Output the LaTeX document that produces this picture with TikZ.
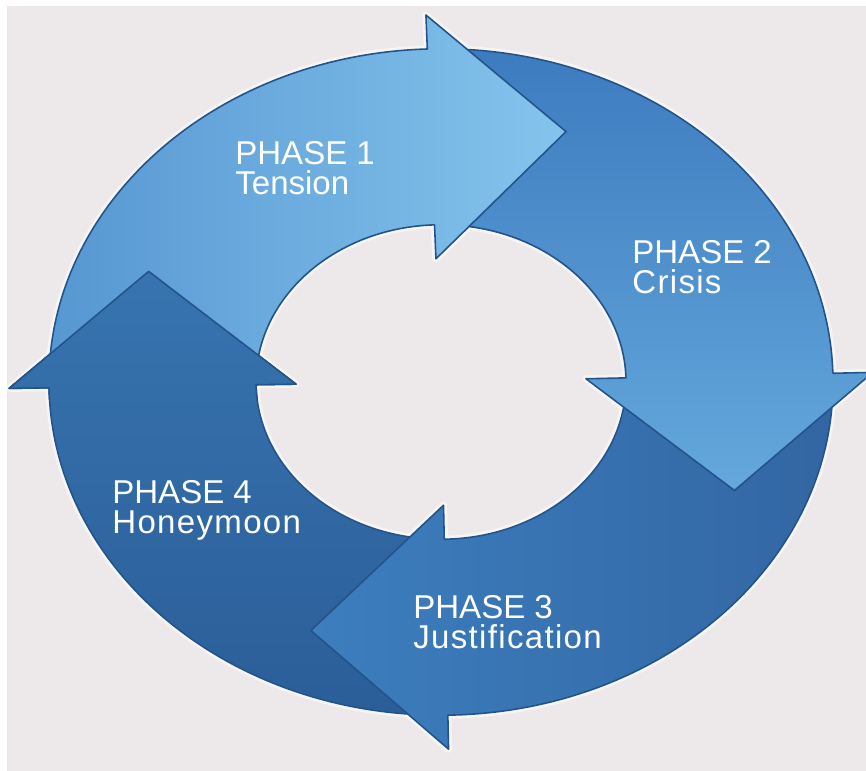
\documentclass[tikz,border=0pt]{standalone}
\usepackage{fontspec}
\setmainfont{Liberation Sans}

\definecolor{paper}{HTML}{EDE9EA}
\definecolor{rim}{HTML}{24538A}
\definecolor{tensionA}{HTML}{5797D2}
\definecolor{tensionB}{HTML}{84C4EC}
\definecolor{crisisA}{HTML}{3D7BBF}
\definecolor{crisisB}{HTML}{64A8DC}
\definecolor{justA}{HTML}{3D7EBE}
\definecolor{justB}{HTML}{3266A3}
\definecolor{honeyA}{HTML}{3774B0}
\definecolor{honeyB}{HTML}{2B5E98}

\tikzset{
  rimline/.style={draw=rim, line width=0.9pt, line join=round},
  halo/.style={draw=white, line width=4pt, opacity=.55, line join=round},
  tensionarrow/.style={rimline, left color=tensionA, right color=tensionB},
  crisisarrow/.style={rimline, top color=crisisA, bottom color=crisisB},
  justarrow/.style={rimline, left color=justA, right color=justB},
  honeyarrow/.style={rimline, top color=honeyA, bottom color=honeyB},
  phasetext/.style={anchor=north west, inner sep=0pt, align=left, text=white,
    font=\fontsize{18.8}{17}\selectfont}
}

% one quarter of the ring: tail angle, angle of the head's base
\newcommand{\ringarrow}[2]{(#1:392) arc[start angle=#1, end angle=#2, radius=392]
  -- (#2:432) -- ({#2-25}:320) -- (#2:145) -- (#2:185)
  arc[start angle=#2, end angle=#1, radius=185] -- cycle}
% second line of a label, a little spread out
\newcommand{\phasename}[1]{{\addfontfeature{LetterSpace=4}#1}}

\begin{document}
\begin{tikzpicture}[x=0.02cm, y=0.02cm]
  \useasboundingbox (0,0) rectangle (866,771);
  \fill[white] (0,0) rectangle (866,771);
  \fill[paper] (7,0) rectangle (866,765);

  \begin{scope}[shift={(441,389)}, yscale=0.85]
    \foreach \a/\b in {179/92, 90/1.5, -0.5/-89, -91/-179}
      \draw[halo] \ringarrow{\a}{\b};
    % drawn backwards so each head sits on the next tail
    \draw[honeyarrow] \ringarrow{-91}{-179};
    \draw[justarrow] \ringarrow{-0.5}{-89};
    \draw[crisisarrow] \ringarrow{90}{1.5};
    \draw[tensionarrow] \ringarrow{179}{92};
  \end{scope}

  % head of phase 4 again, over the tail of phase 1
  \begin{scope}
    \clip (0,371) rectangle (330,521);
    \begin{scope}[shift={(441,389)}, yscale=0.85]
      \draw[honeyarrow] \ringarrow{-91}{-179};
    \end{scope}
  \end{scope}

  \node[phasetext] (tension) at (235,630) {PHASE 1\\Tension};
  \node[phasetext] (crisis) at (632,531) {PHASE 2\\\phasename{Crisis}};
  \node[phasetext] (justification) at (413,176) {PHASE 3\\\phasename{Justification}};
  \node[phasetext] (honeymoon) at (112,291) {PHASE 4\\\phasename{Honeymoon}};
\end{tikzpicture}
\end{document}
